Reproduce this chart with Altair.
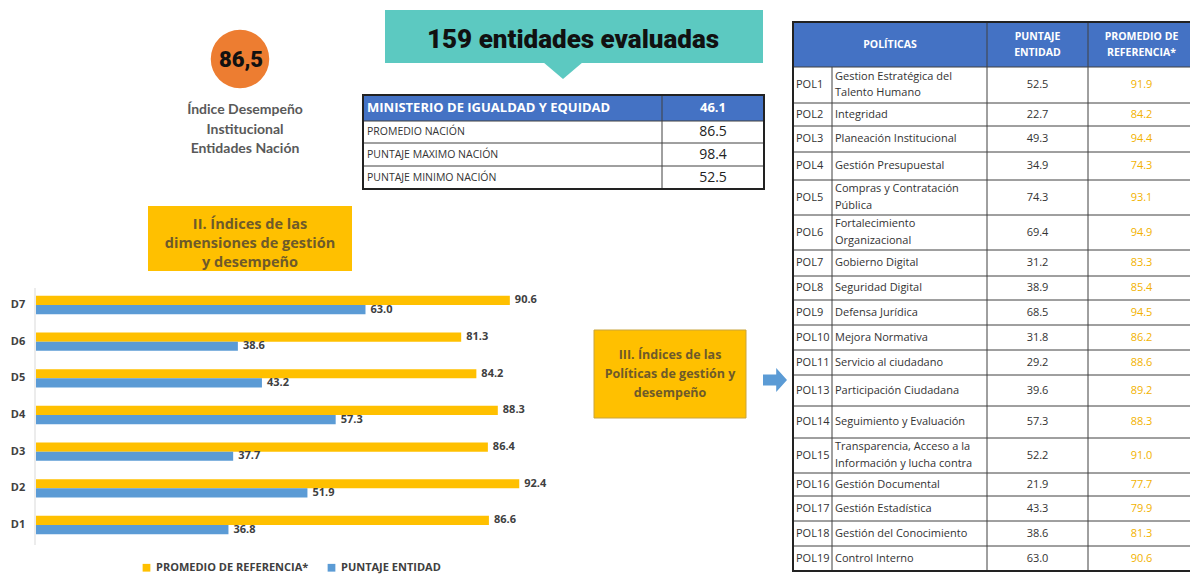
import altair as alt
import pandas as pd

# ---------------- data ----------------
indice_nacion = "86,5"
indice_lineas = ["Índice Desempeño", "Institucional", "Entidades Nación"]
entidades_titulo = "159 entidades evaluadas"

resumen_labels = ["MINISTERIO DE IGUALDAD Y EQUIDAD", "PROMEDIO NACIÓN",
                  "PUNTAJE MAXIMO NACIÓN", "PUNTAJE MINIMO NACIÓN"]
resumen_values = [46.1, 86.5, 98.4, 52.5]

seccion_dim = ["II. Índices de las", "dimensiones de gestión", "y desempeño"]
seccion_pol = ["III. Índices de las", "Políticas de gestión y", "desempeño"]

dimensiones = ["D7", "D6", "D5", "D4", "D3", "D2", "D1"]
series = ["PROMEDIO DE REFERENCIA*", "PUNTAJE ENTIDAD"]
dim_promedio = [90.6, 81.3, 84.2, 88.3, 86.4, 92.4, 86.6]
dim_entidad = [63.0, 38.6, 43.2, 57.3, 37.7, 51.9, 36.8]

tabla_encabezados = ["POLÍTICAS", "PUNTAJE\nENTIDAD", "PROMEDIO DE\nREFERENCIA*"]
pol_codigos = ["POL1", "POL2", "POL3", "POL4", "POL5", "POL6", "POL7", "POL8", "POL9",
               "POL10", "POL11", "POL13", "POL14", "POL15", "POL16", "POL17", "POL18", "POL19"]
pol_nombres = ["Gestion Estratégica del\nTalento Humano", "Integridad", "Planeación Institucional",
               "Gestión Presupuestal", "Compras y Contratación\nPública", "Fortalecimiento\nOrganizacional",
               "Gobierno Digital", "Seguridad Digital", "Defensa Jurídica", "Mejora Normativa",
               "Servicio al ciudadano", "Participación Ciudadana", "Seguimiento y Evaluación",
               "Transparencia, Acceso a la\nInformación y lucha contra", "Gestión Documental",
               " Gestión Estadística", "Gestión del Conocimiento", "Control Interno"]
pol_entidad = [52.5, 22.7, 49.3, 34.9, 74.3, 69.4, 31.2, 38.9, 68.5, 31.8, 29.2, 39.6, 57.3, 52.2,
               21.9, 43.3, 38.6, 63.0]
pol_promedio = [91.9, 84.2, 94.4, 74.3, 93.1, 94.9, 83.3, 85.4, 94.5, 86.2, 88.6, 89.2, 88.3, 91.0,
                77.7, 79.9, 81.3, 90.6]

# ---------------- layout & style ----------------
YELLOW = "#FFC000"
BLUE = "#5B9BD5"
HEADER = "#4472C4"
ORANGE = "#ED7D31"
TEAL = "#5CC9C1"
BROWN = "#6E5A2A"
DARK = "#333333"
HEAVY = "Roboto"
BODY = "Open Sans"

COL_X = [793, 832, 987, 1088, 1195]
ROW_Y = [22, 67, 103, 126, 152, 180, 215, 250, 276, 300, 325, 350, 375, 406, 438, 473, 496, 521, 546, 571]
SM_X = [363, 662, 764]
SM_Y = [95, 121, 143, 166, 189]

XS = alt.Scale(domain=[0, 1198], range=[-8, 1190], nice=False, zero=False)
YS = alt.Scale(domain=[0, 575], range=[-8, 567], nice=False, zero=False)


def rects(rows, **mk):
    df = pd.DataFrame(rows, columns=["x", "x2", "y", "y2"])
    return alt.Chart(df).mark_rect(**mk).encode(
        x=alt.X("x:Q", scale=XS, axis=None), x2="x2:Q",
        y=alt.Y("y:Q", scale=YS, axis=None), y2="y2:Q")


def rules(rows, **mk):
    df = pd.DataFrame(rows, columns=["x", "x2", "y", "y2"])
    return alt.Chart(df).mark_rule(**mk).encode(
        x=alt.X("x:Q", scale=XS, axis=None), x2="x2:Q",
        y=alt.Y("y:Q", scale=YS, axis=None), y2="y2:Q")


def texts(rows, lh=16.0, **mk):
    # split multi-line cells into single lines centred on the cell
    out = []
    for x, y, t in rows:
        parts = t.split("\n")
        n = len(parts)
        for k, p in enumerate(parts):
            out.append((x, y + (k - (n - 1) / 2) * lh, p))
    df = pd.DataFrame(out, columns=["x", "y", "t"])
    return alt.Chart(df).mark_text(**mk).encode(
        x=alt.X("x:Q", scale=XS, axis=None),
        y=alt.Y("y:Q", scale=YS, axis=None), text="t:N")


def points(rows, **mk):
    df = pd.DataFrame(rows, columns=["x", "y"])
    return alt.Chart(df).mark_point(**mk).encode(
        x=alt.X("x:Q", scale=XS, axis=None),
        y=alt.Y("y:Q", scale=YS, axis=None))


layers = []

# --- teal banner ---
layers.append(rects([(385, 763, 10, 63)], color=TEAL))
layers.append(points([(563, 62)], shape="M -1 0 L 1 0 L 0 0.85 Z", size=1600,
                     filled=True, color=TEAL, opacity=1, strokeWidth=0))
layers.append(texts([(573, 40, entidades_titulo)], font=HEAVY, fontSize=26, fontWeight=900,
                    color="#111111", align="center", baseline="middle"))

# --- orange circle ---
layers.append(points([(240, 59)], shape="circle", size=3421, filled=True, color=ORANGE,
                     opacity=1, strokeWidth=0))
layers.append(texts([(241, 60, indice_nacion)], font=HEAVY, fontSize=22, fontWeight=900,
                    color="#111111", align="center", baseline="middle"))
layers.append(texts([(245, 110 + 19.5 * i, t) for i, t in enumerate(indice_lineas)],
                    font="Lato", fontSize=14, fontWeight="bold", color="#595959",
                    align="center", baseline="middle"))

# --- summary table ---
layers.append(rects([(SM_X[0], SM_X[2], SM_Y[0], SM_Y[1])], color=HEADER))
layers.append(rules([(SM_X[0], SM_X[2], y, y) for y in SM_Y[1:-1]] +
                    [(SM_X[1], SM_X[1], SM_Y[0], SM_Y[-1])], color="#404040", strokeWidth=1))
layers.append(rects([(SM_X[0], SM_X[2], SM_Y[0], SM_Y[-1])], fillOpacity=0, stroke="#222222",
                    strokeWidth=2))
sm_c = [(SM_Y[i] + SM_Y[i + 1]) / 2 for i in range(len(SM_Y) - 1)]
layers.append(texts([(367, sm_c[0], resumen_labels[0])], font=BODY, fontSize=13, fontWeight="bold",
                    color="white", align="left", baseline="middle"))
layers.append(texts([(713, sm_c[0], f"{resumen_values[0]:.1f}")], font=BODY, fontSize=13,
                    fontWeight="bold", color="white", align="center", baseline="middle"))
layers.append(texts([(367, sm_c[i], resumen_labels[i]) for i in range(1, 4)], font=BODY,
                    fontSize=10.5, color=DARK, align="left", baseline="middle"))
layers.append(texts([(713, sm_c[i], f"{resumen_values[i]:.1f}") for i in range(1, 4)], font=BODY,
                    fontSize=14, color="#222222", align="center", baseline="middle"))

# --- section II box ---
layers.append(rects([(148, 352, 206, 271)], color=YELLOW))
layers.append(texts([(250, 225 + 19 * i, t) for i, t in enumerate(seccion_dim)], font=BODY,
                    fontSize=14.5, fontWeight="bold", color=BROWN, align="center", baseline="middle"))

# --- bar chart ---
layers.append(rules([(35, 35, 288, 545)], color="#D9D9D9", strokeWidth=1))
bar_df = pd.DataFrame({
    "dimension": dimensiones * 2,
    "serie": [series[0]] * len(dimensiones) + [series[1]] * len(dimensiones),
    "valor": dim_promedio + dim_entidad,
})
Y_BAND = alt.Scale(domain=dimensiones, range=[305 - 8 - 18.33, 525 - 8 + 18.33],
                   paddingInner=0.5, paddingOuter=0.25)
X_BAR = alt.Scale(domain=[0, 100], range=[36 - 8, 559 - 8], nice=False, zero=True)
base = alt.Chart(bar_df).encode(
    y=alt.Y("dimension:N", scale=Y_BAND, axis=None),
    yOffset=alt.YOffset("serie:N", scale=alt.Scale(domain=series, paddingInner=0, paddingOuter=0)),
    x=alt.X("valor:Q", scale=X_BAR, axis=None),
)
bars = base.mark_bar().encode(
    color=alt.Color("serie:N", scale=alt.Scale(domain=series, range=[YELLOW, BLUE]),
                    legend=alt.Legend(orient="none", legendX=133, legendY=554, direction="horizontal",
                                      title=None, symbolType="square", symbolSize=60,
                                      symbolStrokeWidth=0, labelFont=BODY, labelFontSize=11,
                                      labelFontWeight="bold", labelColor="#404040",
                                      columnPadding=17, labelOffset=4, padding=0)))
bar_labels = base.mark_text(align="left", baseline="middle", dx=5, font=BODY, fontSize=11,
                            fontWeight="bold", color="#404040").encode(
    text=alt.Text("valor:Q", format=".1f"))
dim_labels = alt.Chart(pd.DataFrame({"dimension": dimensiones})).mark_text(
    align="center", baseline="middle", font=BODY, fontSize=11, fontWeight="bold",
    color="#404040").encode(
    y=alt.Y("dimension:N", scale=Y_BAND, axis=None),
    x=alt.value(10), text="dimension:N")
layers.append(alt.layer(bars, bar_labels, dim_labels))

# --- section III box + arrow ---
layers.append(rects([(594, 746, 330, 418)], color=YELLOW, stroke="#C9A43C", strokeWidth=1))
layers.append(texts([(670, 355 + 19 * i, t) for i, t in enumerate(seccion_pol)], font=BODY,
                    fontSize=12.5, fontWeight="bold", color=BROWN, align="center", baseline="middle"))
layers.append(points([(775, 380)],
                     shape="M -1 -0.45 L 0.1 -0.45 L 0.1 -1 L 1 0 L 0.1 1 L 0.1 0.45 L -1 0.45 Z",
                     size=576, filled=True, color=BLUE, opacity=1, strokeWidth=0))

# --- policies table ---
layers.append(rects([(COL_X[0], COL_X[-1], ROW_Y[0], ROW_Y[1])], color=HEADER))
hl = [(COL_X[0], COL_X[-1], y, y) for y in ROW_Y[1:-1]]
vl = [(COL_X[1], COL_X[1], ROW_Y[1], ROW_Y[-1]),
      (COL_X[2], COL_X[2], ROW_Y[0], ROW_Y[-1]),
      (COL_X[3], COL_X[3], ROW_Y[0], ROW_Y[-1])]
layers.append(rules(hl + vl, color="#404040", strokeWidth=1))
layers.append(rects([(COL_X[0], COL_X[-1], ROW_Y[0], ROW_Y[-1])], fillOpacity=0, stroke="#222222",
                    strokeWidth=2))
hc = (ROW_Y[0] + ROW_Y[1]) / 2
layers.append(texts([((COL_X[0] + COL_X[2]) / 2, hc, tabla_encabezados[0]),
                     ((COL_X[2] + COL_X[3]) / 2, hc, tabla_encabezados[1]),
                     ((COL_X[3] + COL_X[4]) / 2, hc, tabla_encabezados[2])], lh=16,
                    font=BODY, fontSize=10.5, fontWeight="bold", color="white", align="center",
                    baseline="middle"))
rc = [(ROW_Y[i + 1] + ROW_Y[i + 2]) / 2 for i in range(len(pol_codigos))]
layers.append(texts([(COL_X[0] + 3, rc[i], c) for i, c in enumerate(pol_codigos)], font=BODY,
                    fontSize=11, color=DARK, align="left", baseline="middle"))
layers.append(texts([(COL_X[1] + 3, rc[i], n) for i, n in enumerate(pol_nombres)], lh=16.5,
                    font=BODY, fontSize=11, color=DARK, align="left", baseline="middle"))
layers.append(texts([((COL_X[2] + COL_X[3]) / 2, rc[i], f"{v:.1f}") for i, v in enumerate(pol_entidad)],
                    font=BODY, fontSize=11, color=DARK, align="center", baseline="middle"))
layers.append(texts([((COL_X[3] + COL_X[4]) / 2, rc[i], f"{v:.1f}") for i, v in enumerate(pol_promedio)],
                    font=BODY, fontSize=11, color="#F2B200", align="center", baseline="middle"))

chart = alt.layer(*layers).resolve_scale(
    x="independent", y="independent", color="independent"
).properties(
    width=1182, height=567, padding=0,
    autosize=alt.AutoSizeParams(type="none"), background="white"
).configure_view(stroke=None)

chart.save("out.html", embed_options={"renderer": "svg", "actions": False})
